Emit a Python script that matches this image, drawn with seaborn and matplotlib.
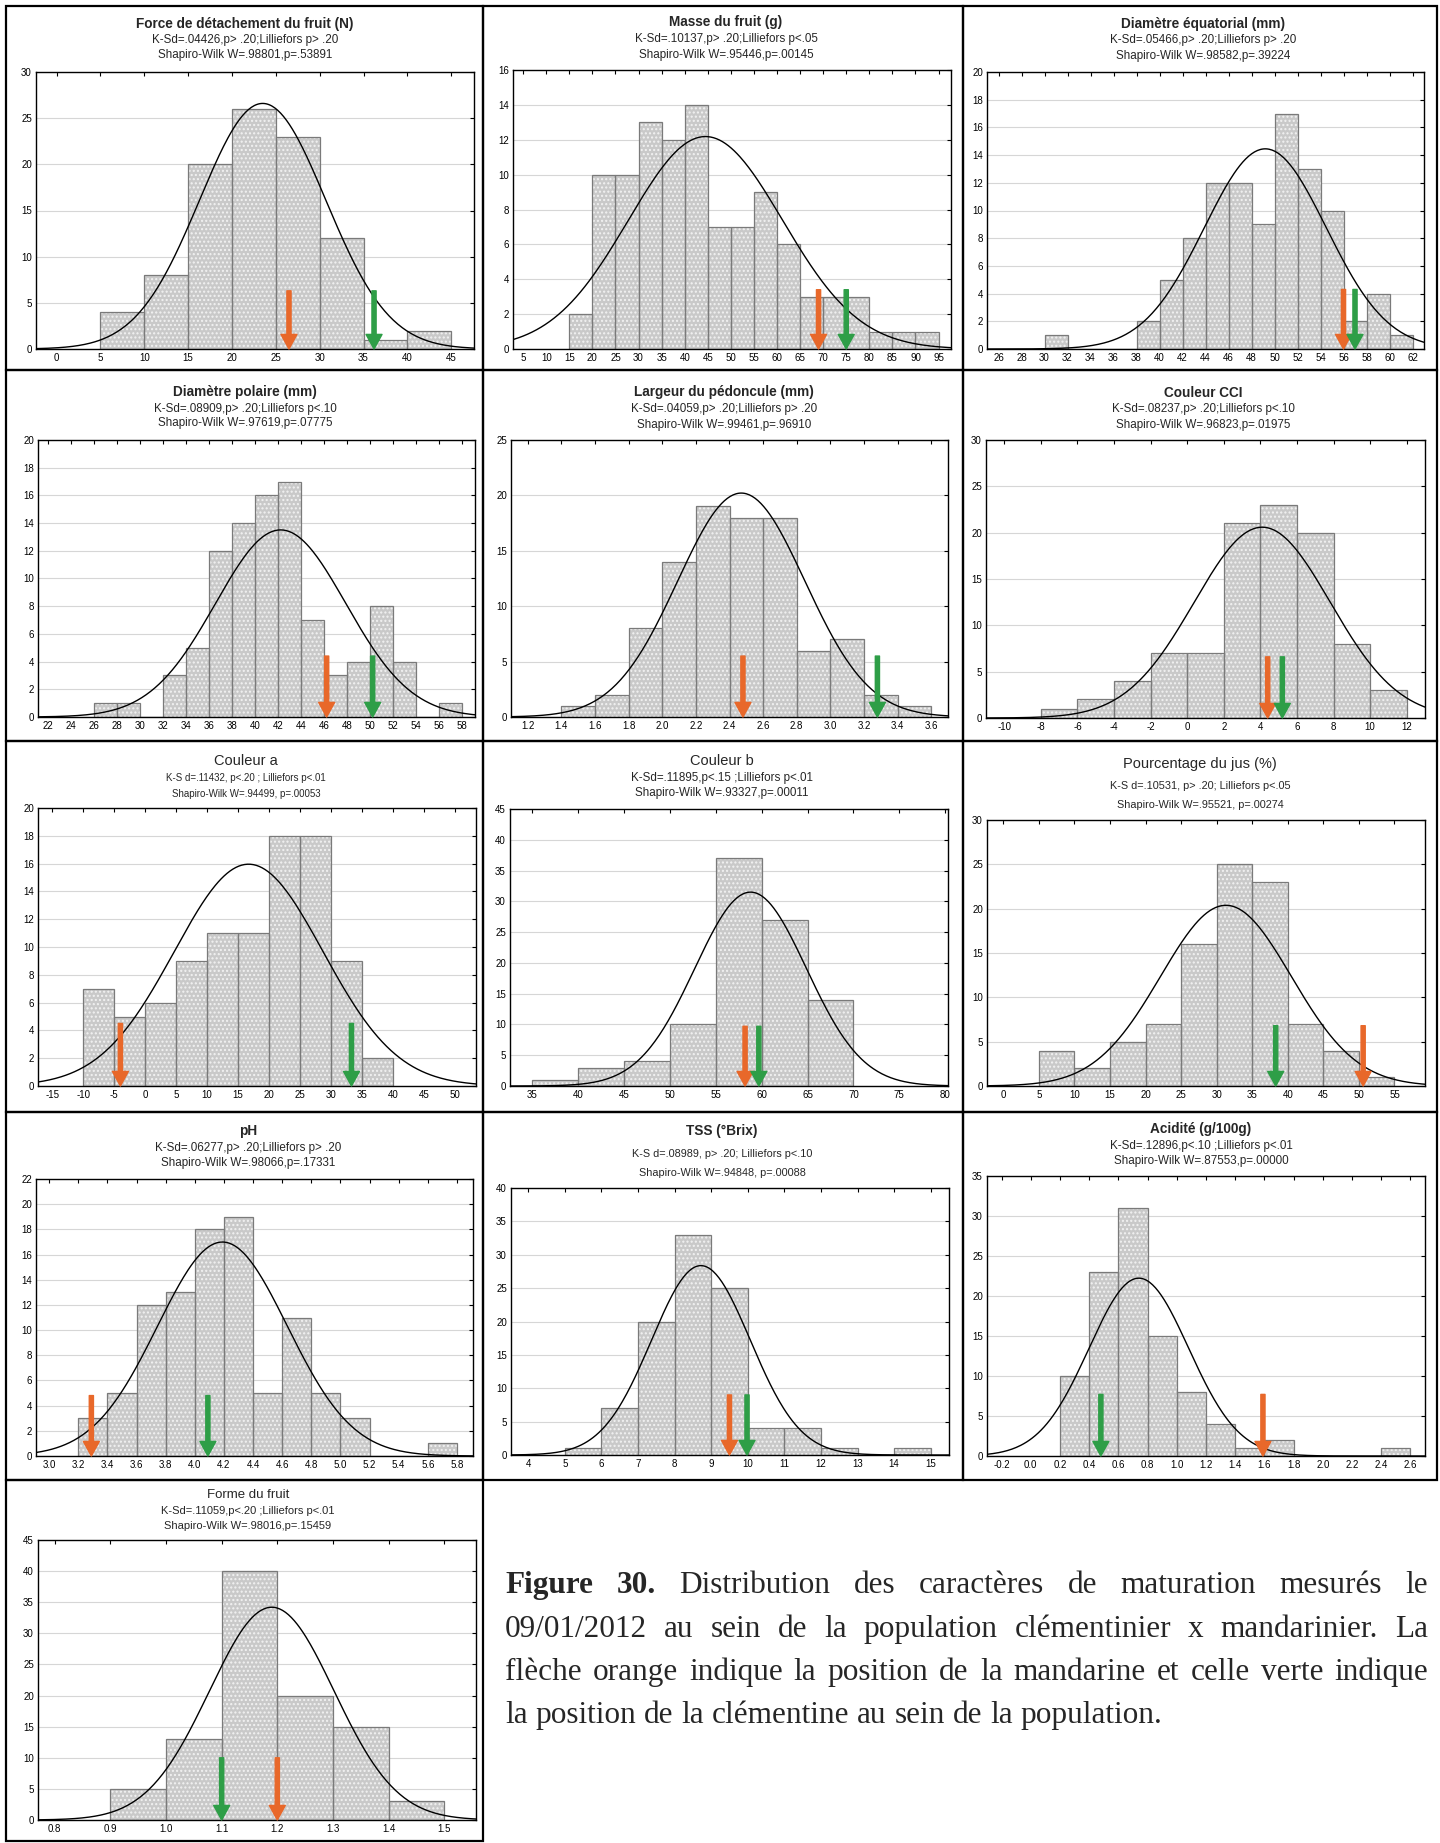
import numpy as np
import matplotlib
matplotlib.use("Agg")
import matplotlib.pyplot as plt
import seaborn as sns
from matplotlib.patches import Rectangle

sns.set_theme(style="white")
plt.rcParams['font.family'] = ['Liberation Sans', 'DejaVu Sans']
plt.rcParams['axes.unicode_minus'] = False
plt.rcParams['hatch.linewidth'] = 1.0

W, H = 1440, 1843

# ---- data (bin edges, counts, normal fit, arrows) ----
force_edges = [5, 10, 15, 20, 25, 30, 35, 40, 45]
force_counts = [4, 8, 20, 26, 23, 12, 1, 2]
force_fit = (23.5, 7.2)
force_arrows = (26.5, 36.2)  # (orange = mandarine, green = clementine)

masse_edges = [15, 20, 25, 30, 35, 40, 45, 50, 55, 60, 65, 70, 75, 80, 85, 90, 95]
masse_counts = [2, 10, 10, 13, 12, 14, 7, 7, 9, 6, 3, 3, 3, 1, 1, 1]
masse_fit = (44.5, 16.7)
masse_arrows = (69.0, 75.0)

deq_edges = [30, 32, 34, 36, 38, 40, 42, 44, 46, 48, 50, 52, 54, 56, 58, 60, 62]
deq_counts = [1, 0, 0, 0, 2, 5, 8, 12, 12, 9, 17, 13, 10, 2, 4, 1]
deq_fit = (49.2, 5.3)
deq_arrows = (56.0, 57.0)

dpo_edges = [26, 28, 30, 32, 34, 36, 38, 40, 42, 44, 46, 48, 50, 52, 54, 56, 58]
dpo_counts = [1, 1, 0, 3, 5, 12, 14, 16, 17, 7, 3, 4, 8, 4, 0, 1]
dpo_fit = (42.2, 5.67)
dpo_arrows = (46.2, 50.2)

ped_edges = [1.4, 1.6, 1.8, 2.0, 2.2, 2.4, 2.6, 2.8, 3.0, 3.2, 3.4, 3.6]
ped_counts = [1, 2, 8, 14, 19, 18, 18, 6, 7, 2, 1]
ped_fit = (2.47, 0.379)
ped_arrows = (2.48, 3.28)

cci_edges = [-8, -6, -4, -2, 0, 2, 4, 6, 8, 10, 12]
cci_counts = [1, 2, 4, 7, 7, 21, 23, 20, 8, 3]
cci_fit = (4.1, 3.72)
cci_arrows = (4.4, 5.2)

ca_edges = [-10, -5, 0, 5, 10, 15, 20, 25, 30, 35, 40]
ca_counts = [7, 5, 6, 9, 11, 11, 18, 18, 9, 2]
ca_fit = (16.7, 12.0)
ca_arrows = (-4.0, 33.3)

cb_edges = [35, 40, 45, 50, 55, 60, 65, 70]
cb_counts = [1, 3, 4, 10, 37, 27, 14]
cb_fit = (58.8, 6.08)
cb_arrows = (58.2, 59.7)

jus_edges = [5, 10, 15, 20, 25, 30, 35, 40, 45, 50, 55]
jus_counts = [4, 2, 5, 7, 16, 25, 23, 7, 4, 1]
jus_fit = (31.3, 9.2)
jus_arrows = (50.6, 38.3)

ph_edges = [3.2, 3.4, 3.6, 3.8, 4.0, 4.2, 4.4, 4.6, 4.8, 5.0, 5.2, 5.4, 5.6, 5.8]
ph_counts = [3, 5, 12, 13, 18, 19, 5, 11, 5, 3, 0, 0, 1]
ph_fit = (4.19, 0.446)
ph_arrows = (3.29, 4.09)

tss_edges = [5, 6, 7, 8, 9, 10, 11, 12, 13, 14, 15]
tss_counts = [1, 7, 20, 33, 25, 4, 4, 1, 0, 1]
tss_fit = (8.72, 1.35)
tss_arrows = (9.5, 9.98)

acid_edges = [0.2, 0.4, 0.6, 0.8, 1.0, 1.2, 1.4, 1.6, 1.8, 2.0, 2.2, 2.4, 2.6]
acid_counts = [10, 23, 31, 15, 8, 4, 1, 2, 0, 0, 0, 1]
acid_fit = (0.74, 0.341)
acid_arrows = (1.59, 0.48)

forme_edges = [0.9, 1.0, 1.1, 1.2, 1.3, 1.4, 1.5]
forme_counts = [5, 13, 40, 20, 15, 3]
forme_fit = (1.19, 0.112)
forme_arrows = (1.2, 1.1)

titles = [
    ("Force de détachement du fruit (N)", "K-Sd=.04426,p> .20;Lilliefors p> .20", "Shapiro-Wilk W=.98801,p=.53891"),
    ("Masse du fruit (g)", "K-Sd=.10137,p> .20;Lilliefors p<.05", "Shapiro-Wilk W=.95446,p=.00145"),
    ("Diamètre équatorial (mm)", "K-Sd=.05466,p> .20;Lilliefors p> .20", "Shapiro-Wilk W=.98582,p=.39224"),
    ("Diamètre polaire (mm)", "K-Sd=.08909,p> .20;Lilliefors p<.10", "Shapiro-Wilk W=.97619,p=.07775"),
    ("Largeur du pédoncule (mm)", "K-Sd=.04059,p> .20;Lilliefors p> .20", "Shapiro-Wilk W=.99461,p=.96910"),
    ("Couleur CCI", "K-Sd=.08237,p> .20;Lilliefors p<.10", "Shapiro-Wilk W=.96823,p=.01975"),
    ("Couleur a", "K-S d=.11432, p<.20 ; Lilliefors p<.01", "Shapiro-Wilk W=.94499, p=.00053"),
    ("Couleur b", "K-Sd=.11895,p<.15 ;Lilliefors p<.01", "Shapiro-Wilk W=.93327,p=.00011"),
    ("Pourcentage du jus (%)", "K-S d=.10531, p> .20; Lilliefors p<.05", "Shapiro-Wilk W=.95521, p=.00274"),
    ("pH", "K-Sd=.06277,p> .20;Lilliefors p> .20", "Shapiro-Wilk W=.98066,p=.17331"),
    ("TSS (°Brix)", "K-S d=.08989, p> .20; Lilliefors p<.10", "Shapiro-Wilk W=.94848, p=.00088"),
    ("Acidité (g/100g)", "K-Sd=.12896,p<.10 ;Lilliefors p<.01", "Shapiro-Wilk W=.87553,p=.00000"),
    ("Forme du fruit", "K-Sd=.11059,p<.20 ;Lilliefors p<.01", "Shapiro-Wilk W=.98016,p=.15459"),
]

caption_lines = [
    "Figure 30. Distribution des caractères de maturation mesurés le",
    "09/01/2012 au sein de la population clémentinier x mandarinier. La",
    "flèche orange indique la position de la mandarine et celle verte indique",
    "la position de la clémentine au sein de la population.",
]

# ---- layout / axis settings ----
# (edges, counts, fit, arrows, xlim, xticks, xfmt, ymax, ystep, arrow_top, axes box px)
panels = [
    (force_edges, force_counts, force_fit, force_arrows, (-2.35, 47.6), np.arange(0, 46, 5), "{:.0f}", 30, 5, 6.3, (36, 72, 474, 349)),
    (masse_edges, masse_counts, masse_fit, masse_arrows, (2.8, 97.7), np.arange(5, 96, 5), "{:.0f}", 16, 2, 3.4, (513, 70, 951, 349)),
    (deq_edges, deq_counts, deq_fit, deq_arrows, (25.0, 63.0), np.arange(26, 63, 2), "{:.0f}", 20, 2, 4.3, (987, 72, 1424, 349)),
    (dpo_edges, dpo_counts, dpo_fit, dpo_arrows, (21.1, 59.1), np.arange(22, 59, 2), "{:.0f}", 20, 2, 4.4, (38, 440, 475, 717)),
    (ped_edges, ped_counts, ped_fit, ped_arrows, (1.1, 3.7), np.arange(1.2, 3.61, 0.2), "{:.1f}", 25, 5, 5.5, (511, 440, 948, 717)),
    (cci_edges, cci_counts, cci_fit, cci_arrows, (-11.0, 13.0), np.arange(-10, 13, 2), "{:.0f}", 30, 5, 6.6, (986, 440, 1425, 718)),
    (ca_edges, ca_counts, ca_fit, ca_arrows, (-17.3, 53.4), np.arange(-15, 51, 5), "{:.0f}", 20, 2, 4.5, (38, 808, 476, 1086)),
    (cb_edges, cb_counts, cb_fit, cb_arrows, (32.6, 80.3), np.arange(35, 81, 5), "{:.0f}", 45, 5, 9.7, (510, 809, 948, 1086)),
    (jus_edges, jus_counts, jus_fit, jus_arrows, (-2.3, 59.3), np.arange(0, 56, 5), "{:.0f}", 30, 5, 6.8, (987, 820, 1425, 1086)),
    (ph_edges, ph_counts, ph_fit, ph_arrows, (2.91, 5.91), np.arange(3.0, 5.81, 0.2), "{:.1f}", 22, 2, 4.8, (36, 1179, 473, 1456)),
    (tss_edges, tss_counts, tss_fit, tss_arrows, (3.53, 15.5), np.arange(4, 16, 1), "{:.0f}", 40, 5, 9.0, (511, 1188, 949, 1455)),
    (acid_edges, acid_counts, acid_fit, acid_arrows, (-0.3, 2.7), np.arange(-0.2, 2.61, 0.2), "{:.1f}", 35, 5, 7.7, (987, 1176, 1425, 1456)),
    (forme_edges, forme_counts, forme_fit, forme_arrows, (0.77, 1.557), np.arange(0.8, 1.51, 0.1), "{:.1f}", 45, 5, 10.0, (38, 1540, 476, 1820)),
]

# title positions (centre x, y title, y sub1, y sub2), font sizes, bold
title_pos = [
    (245, 24, 40, 55), (726, 22, 39, 55), (1203, 24, 40, 56),
    (245, 392, 409, 423), (724, 392, 409, 425), (1203, 393, 409, 425),
    (246, 761, 778, 794), (722, 761, 778, 793), (1200, 764, 786, 805),
    (248, 1131, 1148, 1163), (722, 1131, 1154, 1173), (1201, 1129, 1146, 1161),
    (248, 1495, 1511, 1526),
]
title_bold = [True, True, True, True, True, True, False, False, False, True, True, True, False]
title_size = [9.8, 9.8, 9.8, 9.8, 9.8, 9.8, 10.5, 10.5, 10.5, 9.8, 9.8, 9.8, 9.5]
sub_size = [8.4, 8.4, 8.4, 8.4, 8.4, 8.4, 7.0, 8.4, 7.8, 8.4, 7.8, 8.4, 8.0]

ORANGE = "#e8682a"
GREEN = "#2e9e47"

fig = plt.figure(figsize=(W / 100, H / 100), dpi=100)
fig.patch.set_facecolor("white")

for i, (edges, counts, fit, arrows, xlim, xticks, xfmt, ymax, ystep, atop, box) in enumerate(panels):
    x0, y0, x1, y1 = box
    ax = fig.add_axes([x0 / W, 1 - y1 / H, (x1 - x0) / W, (y1 - y0) / H])
    centers = [(a + b) / 2 for a, b in zip(edges[:-1], edges[1:])]
    # patterned fill
    sns.histplot(x=centers, weights=counts, bins=edges, ax=ax, color="#c9c9c9", alpha=1,
                 edgecolor="#f2f2f2", linewidth=0, hatch="....")
    # outlines
    sns.histplot(x=centers, weights=counts, bins=edges, ax=ax, fill=False,
                 color="#7a7a7a", linewidth=0.9)

    n = sum(counts)
    bw = edges[1] - edges[0]
    mu, sd = fit
    xs = np.linspace(xlim[0], xlim[1], 300)
    ys = n * bw * np.exp(-0.5 * ((xs - mu) / sd) ** 2) / (sd * np.sqrt(2 * np.pi))
    sns.lineplot(x=xs, y=ys, ax=ax, color="black", linewidth=1.0)

    for xa, col in zip(arrows, (ORANGE, GREEN)):
        ax.annotate("", xy=(xa, 0), xytext=(xa, atop),
                    arrowprops=dict(facecolor=col, edgecolor=col, width=3, headwidth=11.5,
                                    headlength=10.5, shrink=0))

    ax.set_xlim(*xlim)
    ax.set_ylim(0, ymax)
    ax.set_xticks(xticks)
    ax.set_xticklabels([xfmt.format(v) for v in xticks])
    yt = np.arange(0, ymax + 0.1, ystep)
    ax.set_yticks(yt)
    ax.set_yticklabels(["{:.0f}".format(v) for v in yt])
    ax.set_xlabel("")
    ax.set_ylabel("")
    ax.grid(axis="y", color="#d6d6d6", linewidth=0.8)
    ax.set_axisbelow(True)
    ax.tick_params(axis="both", direction="in", length=3, width=0.8, labelsize=7,
                   top=True, right=True, pad=3, colors="black")
    for s in ax.spines.values():
        s.set_color("black")
        s.set_linewidth(1.0)

    cx, ty, s1, s2 = title_pos[i]
    t, k1, k2 = titles[i]
    fig.text(cx / W, 1 - ty / H, t, ha="center", va="center", fontsize=title_size[i],
             fontweight="bold" if title_bold[i] else "normal")
    fig.text(cx / W, 1 - s1 / H, k1, ha="center", va="center", fontsize=sub_size[i])
    fig.text(cx / W, 1 - s2 / H, k2, ha="center", va="center", fontsize=sub_size[i])

# cell frames
row_y = [6, 370, 741, 1112, 1480, 1841]
col_x = [6, 483, 963, 1437]
for r in range(5):
    ncols = 3 if r < 4 else 1
    for c in range(ncols):
        xa, xb = col_x[c], col_x[c + 1]
        ya, yb = row_y[r], row_y[r + 1]
        fig.add_artist(Rectangle((xa / W, 1 - yb / H), (xb - xa) / W, (yb - ya) / H,
                                 transform=fig.transFigure, fill=False, edgecolor="black",
                                 linewidth=1.6))

# justified caption
cap_x0, cap_x1 = 505, 1428
cap_base = [1593, 1637, 1680, 1723]
cap_size = 22.5
renderer = fig.canvas.get_renderer()
for li, line in enumerate(caption_lines):
    words = line.split(" ")
    texts = []
    for wi, w in enumerate(words):
        bold = (li == 0 and wi < 2)
        t = fig.text(0, 1 - cap_base[li] / H, w, ha="left", va="baseline", fontsize=cap_size,
                     family=["Liberation Serif", "DejaVu Serif"],
                     fontweight="bold" if bold else "normal")
        texts.append(t)
    widths = [t.get_window_extent(renderer).width for t in texts]
    if li < len(caption_lines) - 1:
        gap = (cap_x1 - cap_x0 - sum(widths)) / (len(words) - 1)
    else:
        gap = cap_size * 100 / 72 * 0.25
    x = cap_x0
    for t, wdt in zip(texts, widths):
        t.set_x(x / W)
        x += wdt + gap

fig.savefig("out.png", dpi=100, facecolor="white")
